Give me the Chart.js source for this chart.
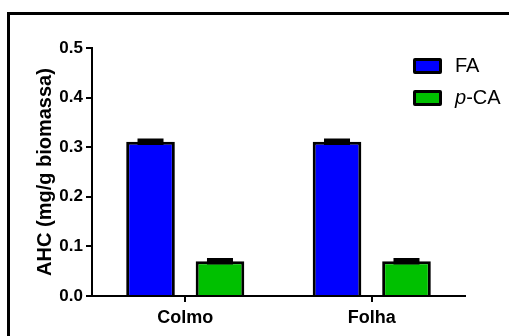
<!DOCTYPE html>
<html>
<head>
<meta charset="utf-8">
<script src="https://cdn.jsdelivr.net/npm/chart.js@4/dist/chart.umd.min.js"></script>
<style>
  html, body { margin: 0; padding: 0; background: #fff; }
  #wrap { position: relative; width: 509px; height: 336px; overflow: hidden; }
  #frame { position: absolute; left: 7px; top: 12px; width: 600px; height: 400px;
           border-top: 3px solid #000; border-left: 3px solid #000; }
  #chart { position: absolute; left: 0; top: 0; }
  .leg { position: absolute; left: 413px; font: 20px "Liberation Sans", Arial, sans-serif; color: #000; }
  .leg .box { position: absolute; left: 0; width: 29px; height: 16px; box-sizing: border-box;
              border: 3px solid #000; border-radius: 2px; }
  .leg .lbl { position: absolute; left: 42px; top: -4px; white-space: nowrap; }
</style>
</head>
<body>
<div id="wrap">
  <div id="frame"></div>
  <canvas id="chart" width="509" height="336"></canvas>
  <div class="leg" id="leg0" style="top:58px"><div class="box"></div><span class="lbl"></span></div>
  <div class="leg" id="leg1" style="top:90px"><div class="box"></div><span class="lbl"></span></div>
</div>
<script>
const categories = ['Colmo', 'Folha']
const seriesNames = ['FA', 'p-CA']
const faValues = [0.311, 0.311]
const faErrors = [0.003, 0.003]
const pcaValues = [0.07, 0.07]
const pcaErrors = [0.003, 0.003]
const yMin = 0
const yMax = 0.5
const yStep = 0.1
const colors = ['#0000ff', '#00c000']

Chart.defaults.font.family = '"Liberation Sans", Arial, Helvetica, sans-serif'
Chart.defaults.color = '#000'

// error bars drawn on top of the bars, from the same scales
const errorBars = {
  id: 'errorBars',
  afterDatasetsDraw(chart) {
    const ctx = chart.ctx
    const y = chart.scales.y
    chart.data.datasets.forEach((ds, i) => {
      const meta = chart.getDatasetMeta(i)
      meta.data.forEach((bar, j) => {
        const v = ds.data[j], e = ds.errors[j]
        const yHi = y.getPixelForValue(v + e)
        const yLo = y.getPixelForValue(v - e)
        const half = 13
        ctx.save()
        ctx.strokeStyle = '#000'
        ctx.lineWidth = 3.5
        ctx.beginPath()
        ctx.moveTo(bar.x, yHi); ctx.lineTo(bar.x, yLo)
        ctx.moveTo(bar.x - half, yHi); ctx.lineTo(bar.x + half, yHi)
        ctx.moveTo(bar.x - half, yLo); ctx.lineTo(bar.x + half, yLo)
        ctx.stroke()
        ctx.restore()
      })
    })
  }
}

const chart = new Chart(document.getElementById('chart'), {
  type: 'bar',
  data: {
    labels: categories,
    datasets: [
      { label: seriesNames[0], data: faValues, errors: faErrors, backgroundColor: colors[0],
        borderColor: '#000', borderWidth: 3, categoryPercentage: 0.745, barPercentage: 0.70 },
      { label: seriesNames[1], data: pcaValues, errors: pcaErrors, backgroundColor: colors[1],
        borderColor: '#000', borderWidth: 3, categoryPercentage: 0.745, barPercentage: 0.70 }
    ]
  },
  options: {
    responsive: false,
    animation: false,
    layout: { padding: { left: 0, right: 44, top: 48, bottom: 0 } },
    plugins: { legend: { display: false }, tooltip: { enabled: false } },
    scales: {
      x: {
        afterFit: (s) => { s.height = 40 },
        grid: { offset: false, drawOnChartArea: false, tickLength: 6, color: '#000', lineWidth: 2 },
        border: { display: true, color: '#000', width: 2 },
        ticks: { padding: 5, font: { size: 18, weight: 'bold' }, color: '#000' }
      },
      y: {
        min: yMin,
        max: yMax,
        afterFit: (s) => { s.width = 92 },
        grid: { drawOnChartArea: false, tickLength: 6, color: '#000', lineWidth: 2 },
        border: { display: true, color: '#000', width: 2 },
        ticks: { stepSize: yStep, padding: 3, font: { size: 17, weight: 'bold' }, color: '#000',
                 callback: (v) => Number(v).toFixed(1) },
        title: { display: true, text: 'AHC (mg/g biomassa)', color: '#000',
                 font: { size: 20, weight: 'bold' }, padding: { top: 33, bottom: 0 } }
      }
    }
  },
  plugins: [errorBars]
})

// legend as page text, built from the dataset names and colours
chart.data.datasets.forEach((ds, i) => {
  const el = document.getElementById('leg' + i)
  el.querySelector('.box').style.background = ds.backgroundColor
  const lbl = el.querySelector('.lbl')
  const m = ds.label.match(/^p-(.*)$/)
  if (m) lbl.innerHTML = '<i>p</i>-' + m[1]
  else lbl.textContent = ds.label
})
</script>
</body>
</html>
